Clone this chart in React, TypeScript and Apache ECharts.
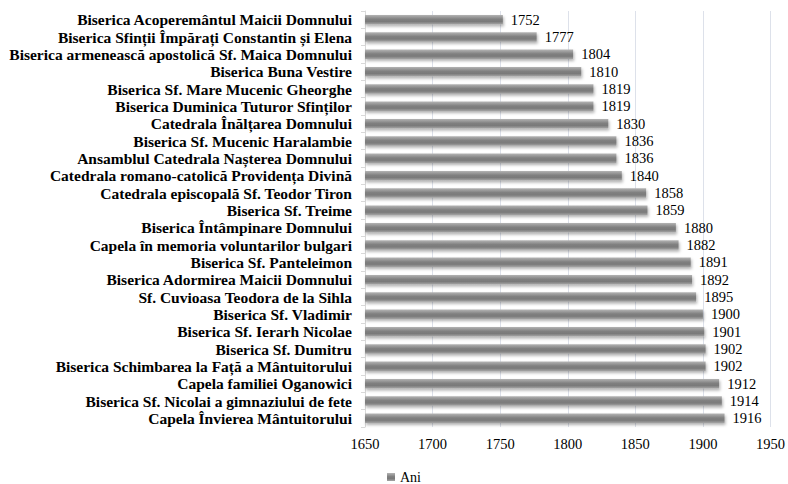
import React, { useEffect, useRef } from "react";
import * as echarts from "echarts";

const categories = [
  "Biserica Acoperemântul Maicii Domnului",
  "Biserica Sfinții Împărați Constantin și Elena",
  "Biserica armenească apostolică Sf. Maica Domnului",
  "Biserica Buna Vestire",
  "Biserica Sf. Mare Mucenic Gheorghe",
  "Biserica Duminica Tuturor Sfinților",
  "Catedrala Înălțarea Domnului",
  "Biserica Sf. Mucenic Haralambie",
  "Ansamblul Catedrala Nașterea Domnului",
  "Catedrala romano-catolică Providența Divină",
  "Catedrala episcopală Sf. Teodor Tiron",
  "Biserica Sf. Treime",
  "Biserica Întâmpinare Domnului",
  "Capela în memoria voluntarilor bulgari",
  "Biserica Sf. Panteleimon",
  "Biserica Adormirea Maicii Domnului",
  "Sf. Cuvioasa Teodora de la Sihla",
  "Biserica Sf. Vladimir",
  "Biserica Sf. Ierarh Nicolae",
  "Biserica Sf. Dumitru",
  "Biserica Schimbarea la Față a Mântuitorului",
  "Capela familiei Oganowici",
  "Biserica Sf. Nicolai a gimnaziului de fete",
  "Capela Învierea Mântuitorului",
];

const ani = [
  1752, 1777, 1804, 1810, 1819, 1819, 1830, 1836, 1836, 1840, 1858, 1859,
  1880, 1882, 1891, 1892, 1895, 1900, 1901, 1902, 1902, 1912, 1914, 1916,
];

const seriesName = "Ani";
const axisMin = 1650;
const axisMax = 1950;
const axisInterval = 50;

export default function App() {
  const ref = useRef<HTMLDivElement>(null);
  useEffect(() => {
    document.body.style.margin = "0";
    if (!ref.current) return;
    const chart = echarts.init(ref.current, null, { renderer: "svg" });
    const font = "Liberation Serif, Times New Roman, serif";
    chart.setOption({
      animation: false,
      backgroundColor: "#ffffff",
      textStyle: { fontFamily: font },
      grid: { left: 365, right: 16, top: 11, bottom: 57 },
      legend: {
        data: [seriesName],
        left: 387,
        top: 470,
        padding: 0,
        icon: "rect",
        itemWidth: 8,
        itemHeight: 8,
        itemGap: 4,
        textStyle: { fontFamily: font, fontSize: 14, lineHeight: 14, color: "#000" },
      },
      xAxis: {
        type: "value",
        min: axisMin,
        max: axisMax,
        interval: axisInterval,
        axisLine: { show: false },
        axisTick: { show: false },
        axisLabel: {
          fontFamily: font,
          fontSize: 14.5,
          color: "#000",
          margin: 9,
          formatter: (v: number) => String(v),
        },
        splitLine: { show: true, lineStyle: { color: "#dde1ea", width: 1 } },
      },
      yAxis: {
        type: "category",
        data: categories,
        inverse: true,
        axisLine: { show: true, lineStyle: { color: "#d9d9d9" } },
        axisTick: { show: true, length: 4, lineStyle: { color: "#d9d9d9" } },
        axisLabel: {
          interval: 0,
          fontFamily: font,
          fontSize: 15.5,
          fontWeight: "bold",
          color: "#000",
          margin: 13,
        },
      },
      series: [
        {
          name: seriesName,
          type: "bar",
          data: ani,
          barWidth: "55%",
          clip: true,
          itemStyle: {
            color: new echarts.graphic.LinearGradient(0, 0, 0, 1, [
              { offset: 0, color: "#b4b4b4" },
              { offset: 0.45, color: "#808080" },
              { offset: 0.7, color: "#7a7a7a" },
              { offset: 1, color: "#a6a6a6" },
            ]),
            shadowColor: "rgba(0,0,0,0.3)",
            shadowBlur: 3,
            shadowOffsetX: 1,
            shadowOffsetY: 2,
          },
          label: {
            show: true,
            position: "right",
            distance: 8,
            fontFamily: font,
            fontSize: 14.5,
            color: "#000",
          },
        },
      ],
    });
    return () => chart.dispose();
  }, []);
  return <div ref={ref} style={{ width: 788, height: 484 }} />;
}
